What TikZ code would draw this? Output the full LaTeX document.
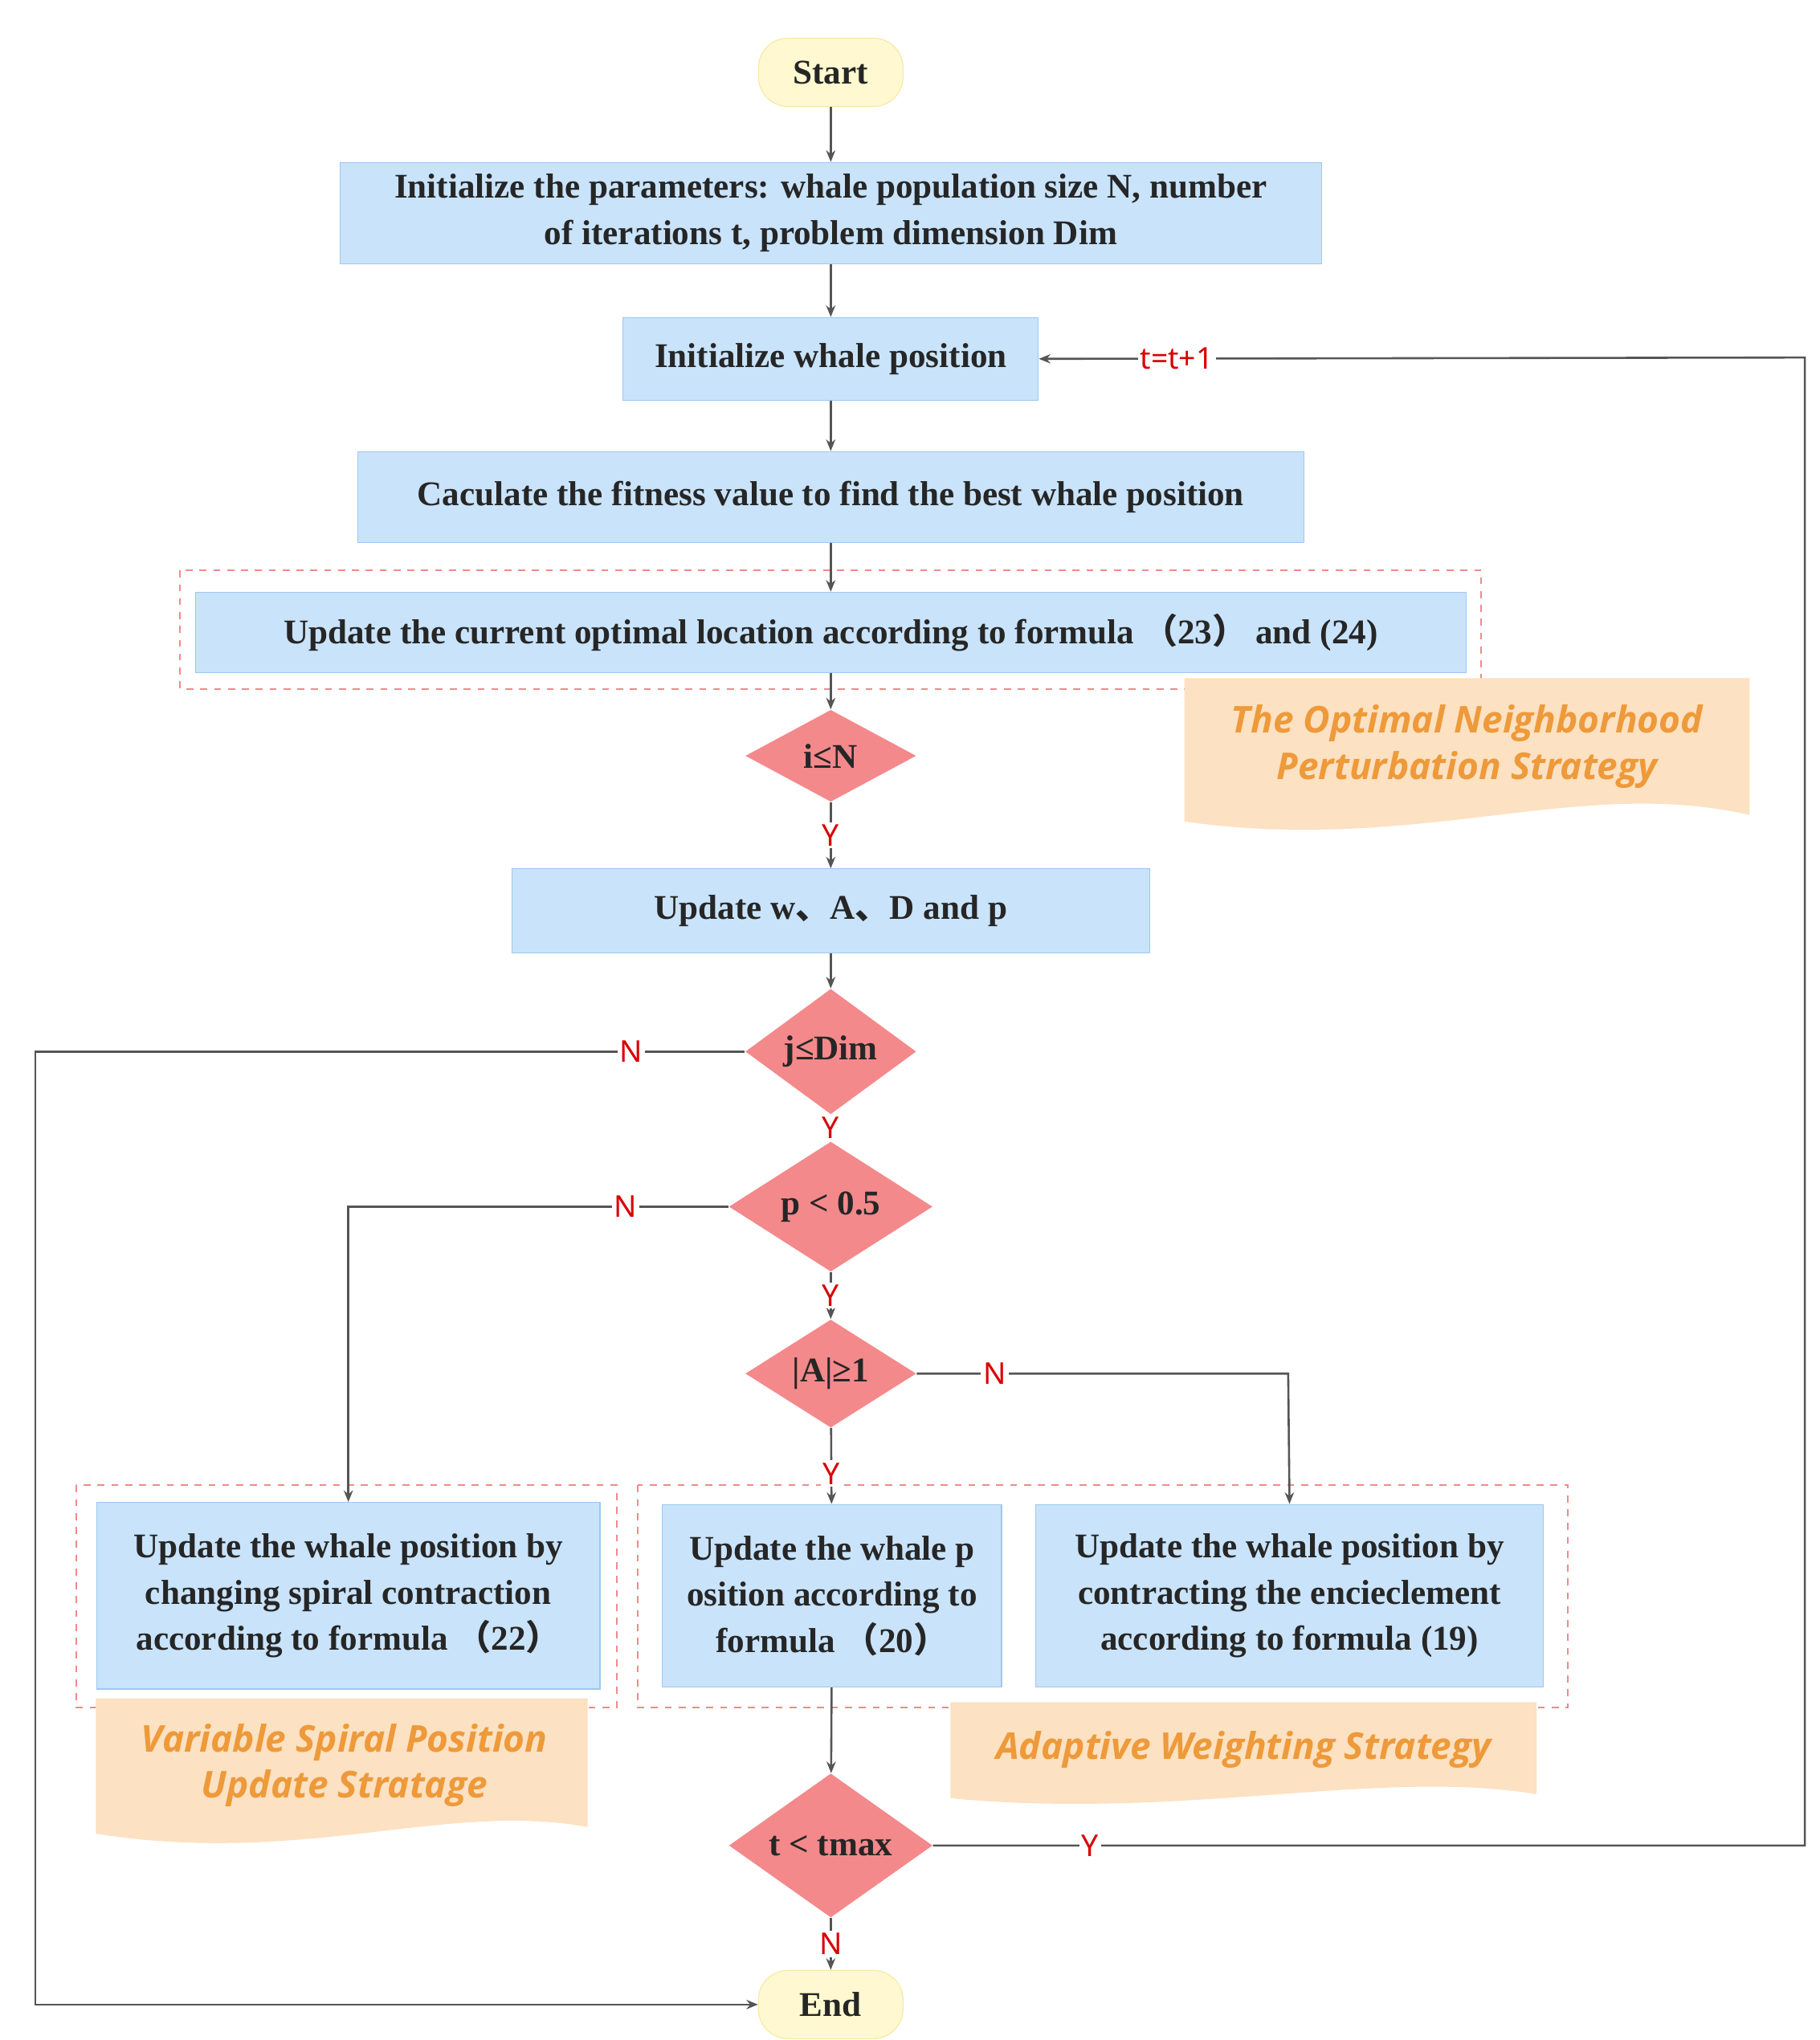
\documentclass[tikz,border=0pt]{standalone}
\usepackage{fontspec}
\setmainfont{Liberation Serif}
\newfontfamily\cjk{Noto Sans CJK SC}
\newfontfamily\lab{Noto Sans}
\newfontfamily\docf{Open Sans}
\usetikzlibrary{shapes.geometric,arrows.meta}
\definecolor{boxf}{HTML}{C9E3FA}
\definecolor{boxd}{HTML}{9DC8F0}
\definecolor{dia}{HTML}{F4898B}
\definecolor{term}{HTML}{FFF8D0}
\definecolor{termd}{HTML}{F3EAA8}
\definecolor{docfill}{HTML}{FCE1C2}
\definecolor{doctext}{HTML}{EE9A3A}
\definecolor{ln}{HTML}{555555}
\definecolor{dash}{HTML}{F08A8A}
\newcommand\cp[1]{{\cjk #1}}
\begin{document}
\begin{tikzpicture}[x=0.02cm,y=-0.02cm,
  every node/.style={font=\fontsize{15}{20}\selectfont\bfseries, text=black!85},
  box/.style={draw=boxd, fill=boxf, align=center, inner sep=2pt},
  term/.style={draw=termd, fill=term, rounded corners=0.45cm, minimum width=2.2cm, minimum height=1.04cm},
  dec/.style={diamond, fill=dia, inner sep=0pt},
  lbl/.style={font=\lab\fontsize{13}{13}\selectfont, text=red!85!black, fill=white, inner sep=1pt},
  arr/.style={draw=ln, line width=0.9pt, -{Stealth[length=5pt,width=4pt]}},
  ln/.style={draw=ln, line width=0.9pt},
  dbox/.style={draw=dash, dashed, line width=0.7pt},
  doct/.style={font=\docf\fontsize{16}{20}\selectfont\bfseries\itshape, text=doctext, align=center}]
\useasboundingbox (0,0) rectangle (1384,1552);
% dashed boxes
\draw[dbox] (137,434) rectangle (1127,524);
\draw[dbox] (58,1130) rectangle (469,1299);
\draw[dbox] (485,1130) rectangle (1193,1299);
% documents
\fill[docfill] (901,516) -- (1331,516) -- (1331,620) .. controls (1200,590) and (1080,650) .. (901,625) -- cycle;
\node[doct] (d1) at (1116,568) {The Optimal Neighborhood\\Perturbation Strategy};
\fill[docfill] (73,1292) -- (447,1292) -- (447,1390) .. controls (340,1370) and (230,1420) .. (73,1395) -- cycle;
\node[doct] (d2) at (262,1343) {Variable Spiral Position\\Update Stratage};
\fill[docfill] (723,1295) -- (1169,1295) -- (1169,1365) .. controls (1050,1345) and (900,1385) .. (723,1368) -- cycle;
\node[doct] (d3) at (946,1331) {Adaptive Weighting Strategy};
% nodes
\node[term] (start) at (632,55) {Start};
\node[box, minimum width=14.94cm, minimum height=1.54cm] (p1) at (632,162) {Initialize the parameters: whale population size N, number\\of iterations t, problem dimension Dim};
\node[box, minimum width=6.32cm, minimum height=1.26cm] (p2) at (632,273) {Initialize whale position};
\node[box, minimum width=14.4cm, minimum height=1.38cm] (p3) at (632,378) {Caculate the fitness value to find the best whale position};
\node[box, minimum width=19.34cm, minimum height=1.22cm] (p4) at (632,481) {Update the current optimal location according to formula \cp{（}23\cp{）} and (24)};
\node[dec, minimum width=2.6cm, minimum height=1.4cm] (c1) at (632,575) {i≤N};
\node[box, minimum width=9.7cm, minimum height=1.28cm] (p5) at (632,693) {Update w\cp{、}A\cp{、}D and p};
\node[dec, minimum width=2.6cm, minimum height=1.32cm] (c2) at (632,800) {j≤Dim};
\node[dec, minimum width=3.1cm, minimum height=1.5cm] (c3) at (632,918) {p < 0.5};
\node[dec, minimum width=2.6cm, minimum height=1.4cm] (c4) at (632,1045) {|A|≥1};
\node[box, minimum width=7.66cm, minimum height=2.84cm] (bl) at (265,1214) {Update the whale position by\\changing spiral contraction\\according to formula \cp{（}22\cp{）}};
\node[box, minimum width=5.16cm, minimum height=2.78cm] (bm) at (633,1214) {Update the whale p\\osition according to\\formula \cp{（}20\cp{）}};
\node[box, minimum width=7.72cm, minimum height=2.78cm] (br) at (981,1214) {Update the whale position by\\contracting the encieclement\\according to formula (19)};
\node[dec, minimum width=3.1cm, minimum height=1.7cm] (c5) at (632,1404) {t < tmax};
\node[term] (end) at (632,1525) {End};
% connectors
\draw[arr] (start) -- (p1);
\draw[arr] (p1) -- (p2);
\draw[arr] (p2) -- (p3);
\draw[arr] (p3) -- (p4);
\draw[arr] (p4) -- (c1);
\draw[arr] (c1) -- node[lbl]{Y} (p5);
\draw[arr] (p5) -- (c2);
\draw[arr] (c2) -- node[lbl]{Y} (c3);
\draw[arr] (c3) -- node[lbl]{Y} (c4);
\draw[arr] (c4) -- node[lbl,pos=0.6]{Y} (bm);
\draw[arr] (c2.west) -- node[lbl,pos=0.16]{N} (27,800) -- (27,1525) -- (end.west);
\draw[arr] (c3.west) -- node[lbl,pos=0.27]{N} (265,918) -- (bl.north);
\draw[arr] (c4.east) -- node[lbl,pos=0.21]{N} (980,1045) -- (br.north);
\draw[arr] (bm) -- (c5);
\draw[arr] (c5.east) -- node[lbl,pos=0.18]{Y} (1373,1404) -- (1373,272) -- node[lbl,pos=0.82]{t=t+1} (p2.east);
\draw[arr] (c5) -- node[lbl]{N} (end);
\end{tikzpicture}
\end{document}
